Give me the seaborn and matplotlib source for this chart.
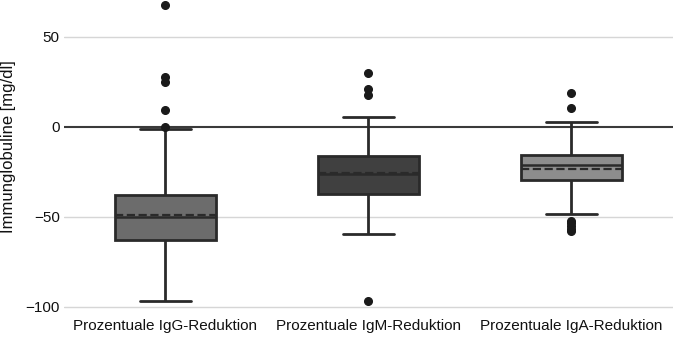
import matplotlib
matplotlib.use("Agg")
import matplotlib.pyplot as plt
import seaborn as sns
import pandas as pd

categories = ["Prozentuale IgG-Reduktion", "Prozentuale IgM-Reduktion", "Prozentuale IgA-Reduktion"]

igg_values = [-96.5, -96, -95, -94, -93, -92, -91, -90, -90, -89,
              -63, -62, -61, -61, -60, -60, -59, -58, -56, -53,
              -50, -49, -48, -48, -47, -47, -46, -45, -43, -40,
              -38, -36, -33, -28, -20, -1, 0, 9.6, 24.8, 27.6, 67.8]
igm_values = [-96.5, -59.4, -55, -50, -46, -43, -41, -40, -39, -38,
              -37, -36, -35, -34, -33, -32, -31, -30, -28, -27,
              -26, -25, -24, -23, -22, -21, -20, -19, -18, -17,
              -16, -15, -14, -12, -10, -7, -3.6, 5.6, 17.6, 20.9, 29.8]
iga_values = [-58, -56.5, -55, -53.5, -52, -48.5, -42, -37, -33, -31,
              -29.5, -29, -28, -27, -26, -25, -24, -23, -22, -22,
              -21, -20.5, -20, -19.5, -19, -18.5, -18, -17, -16.5, -16,
              -15.5, -15, -14, -12, -10, -8, -5, 0.3, 2.6, 10.6, 18.7]

box_colors = ["#6c6c6c", "#404040", "#8d8d8d"]
y_ticks = [-100, -50, 0, 50]
y_label = "Immunglobuline [mg/dl]"

df = pd.DataFrame({
    "Gruppe": [categories[0]] * len(igg_values) + [categories[1]] * len(igm_values) + [categories[2]] * len(iga_values),
    "Wert": igg_values + igm_values + iga_values,
})

sns.set_theme(style="white")
plt.rcParams["font.family"] = ["Liberation Sans", "DejaVu Sans"]

fig = plt.figure(figsize=(6.73, 3.38), dpi=100)
ax = fig.add_axes([0.095, 0.068, 0.905, 0.932])

edge = "#2a2a2a"
sns.boxplot(data=df, x="Gruppe", y="Wert", hue="Gruppe", palette=box_colors,
            order=categories, hue_order=categories, legend=False,
            width=0.5, linewidth=2, linecolor=edge, showmeans=True, meanline=True,
            meanprops=dict(color=edge, linestyle="--", linewidth=1.6),
            medianprops=dict(color=edge, linewidth=1.8),
            flierprops=dict(marker="o", markerfacecolor="#1a1a1a", markeredgecolor="#1a1a1a", markersize=5.5),
            ax=ax, zorder=3)

ax.set_ylim(-104.5, 70.5)
ax.set_xlim(-0.5, 2.5)
ax.set_yticks(y_ticks)
for yv in y_ticks:
    if yv != 0:
        ax.axhline(yv, color="#d6d6d6", linewidth=1, zorder=0)
ax.axhline(0, color="#3a3a3a", linewidth=1.5, zorder=1)

for s in ax.spines.values():
    s.set_visible(False)
ax.tick_params(axis="both", length=0, labelsize=11, colors="#111111", pad=3)
ax.set_xlabel("")
ax.set_ylabel(y_label, fontsize=12, color="#111111")
ax.yaxis.set_label_coords(-0.078, 0.533)

fig.savefig("out.png", dpi=100)
